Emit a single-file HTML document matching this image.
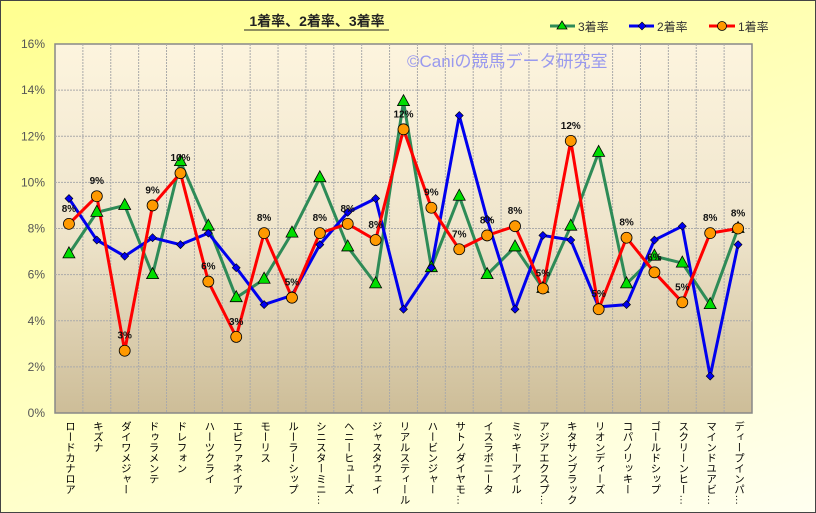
<!DOCTYPE html>
<html><head><meta charset="utf-8"><style>
body{margin:0;width:816px;height:513px;overflow:hidden;font-family:"Liberation Sans","Noto Sans CJK JP",sans-serif}
.wrap{position:relative;width:814px;height:511px;border:1px solid #444;background:linear-gradient(160deg,#ffff90 0%,#ffffc8 60%,#fffff0 100%)}
.cat{position:absolute;top:420px;writing-mode:vertical-rl;font-size:10.5px;line-height:13px;color:#000;white-space:nowrap}
</style></head><body><div class="wrap">
<svg width="816" height="513" style="position:absolute;left:-1px;top:-1px">
<defs><linearGradient id="pg" x1="0" y1="0" x2="0" y2="1"><stop offset="0" stop-color="#fdf4de"/><stop offset="0.5" stop-color="#efe5cc"/><stop offset="1" stop-color="#cdbd98"/></linearGradient></defs>
<rect x="55" y="44" width="697" height="369" fill="url(#pg)" stroke="#888" stroke-width="1.5"/>
<g id="grid" stroke="#aaa" stroke-dasharray="2,1" stroke-width="1"></g>
<g font-size="12" fill="#555" text-anchor="end" id="yl"></g>
<text x="317" y="26" font-size="14" font-weight="bold" text-anchor="middle" fill="#222" font-family="Liberation Sans,Noto Sans CJK JP,sans-serif">1着率、2着率、3着率</text>
<line x1="244" y1="30" x2="389" y2="30" stroke="#222" stroke-width="1"/>
<text x="407" y="67" font-size="17" fill="#9999ee" font-family="Liberation Sans,Noto Sans CJK JP,sans-serif">©Caniの競馬データ研究室</text>
<g font-size="12" fill="#333">
<line x1="550" y1="26" x2="575" y2="26" stroke="#2e8b57" stroke-width="3"/><polygon points="562,21 567,29 557,29" fill="#00dd00" stroke="#000" stroke-width="0.8"/><text x="578" y="31">3着率</text>
<line x1="629" y1="26" x2="654" y2="26" stroke="#0000ee" stroke-width="3"/><polygon points="642,22 646,26 642,30 638,26" fill="#0000ee" stroke="#000" stroke-width="0.6"/><text x="657" y="31">2着率</text>
<line x1="709" y1="26" x2="735" y2="26" stroke="#ff0000" stroke-width="3"/><circle cx="722" cy="26" r="4.5" fill="#ff9900" stroke="#000" stroke-width="0.8"/><text x="738" y="31">1着率</text>
</g>
<g id="series"></g>
</svg>
<div id="cats"></div>
</div>
<script>
const cats=["ロードカナロア","キズナ","ダイワメジャー","ドゥラメンテ","ドレフォン","ハーツクライ","エピファネイア","モーリス","ルーラーシップ","シニスターミニ…","ヘニーヒューズ","ジャスタウェイ","リアルスティール","ハービンジャー","サトノダイヤモ…","イスラボニータ","ミッキーアイル","アジアエクスプ…","キタサンブラック","リオンディーズ","コパノリッキー","ゴールドシップ","スクリーンヒー…","マインドユアビ…","ディープインパ…"];
const g=[6.9,8.7,9.0,6.0,10.9,8.1,5.0,5.8,7.8,10.2,7.2,5.6,13.5,6.3,9.4,6.0,7.2,5.4,8.1,11.3,5.6,6.8,6.5,4.7,8.0];
const b=[9.3,7.5,6.8,7.6,7.3,7.8,6.3,4.7,5.1,7.3,8.7,9.3,4.5,6.3,12.9,8.4,4.5,7.7,7.5,4.6,4.7,7.5,8.1,1.6,7.3];
const r=[8.2,9.4,2.7,9.0,10.4,5.7,3.3,7.8,5.0,7.8,8.2,7.5,12.3,8.9,7.1,7.7,8.1,5.4,11.8,4.5,7.6,6.1,4.8,7.8,8.0];
const L=55,R=752,T=44,B=413,n=25,w=(R-L)/n;
const X=i=>L+w*(i+.5),Y=v=>B-(B-T)*v/16;
let s="";
for(let i=1;i<n;i++)s+=`<line x1="${L+w*i}" y1="${T}" x2="${L+w*i}" y2="${B}"/>`;
for(let k=2;k<16;k+=2)s+=`<line x1="${L}" y1="${Y(k)}" x2="${R}" y2="${Y(k)}"/>`;
document.getElementById('grid').innerHTML=s;
s="";for(let k=0;k<=16;k+=2)s+=`<text x="45" y="${Y(k)+4}">${k}%</text>`;
document.getElementById('yl').innerHTML=s;
const pl=(a,c)=>`<polyline fill="none" stroke="${c}" stroke-width="3" stroke-linejoin="round" points="${a.map((v,i)=>X(i)+','+Y(v)).join(' ')}"/>`;
s=pl(g,"#2e8b57")+pl(b,"#0000ee")+pl(r,"#ff0000");
g.forEach((v,i)=>{const x=X(i),y=Y(v);s+=`<polygon points="${x},${y-7} ${x+6},${y+4} ${x-6},${y+4}" fill="#00dd00" stroke="#000" stroke-width="0.8"/>`});
b.forEach((v,i)=>{const x=X(i),y=Y(v);s+=`<polygon points="${x},${y-4} ${x+4},${y} ${x},${y+4} ${x-4},${y}" fill="#0000ee" stroke="#000" stroke-width="0.6"/>`});
r.forEach((v,i)=>{const x=X(i),y=Y(v);s+=`<circle cx="${x}" cy="${y}" r="5.5" fill="#ff9900" stroke="#000" stroke-width="0.8"/><text x="${x}" y="${y-12}" font-size="10" font-weight="bold" text-anchor="middle" fill="#111">${Math.round(v)}%</text>`});
document.getElementById('series').innerHTML=s;
s="";cats.forEach((c,i)=>{s+=`<div class="cat" style="left:${X(i)-7}px">${c}</div>`});
document.getElementById('cats').innerHTML=s;
</script>
</body></html>
